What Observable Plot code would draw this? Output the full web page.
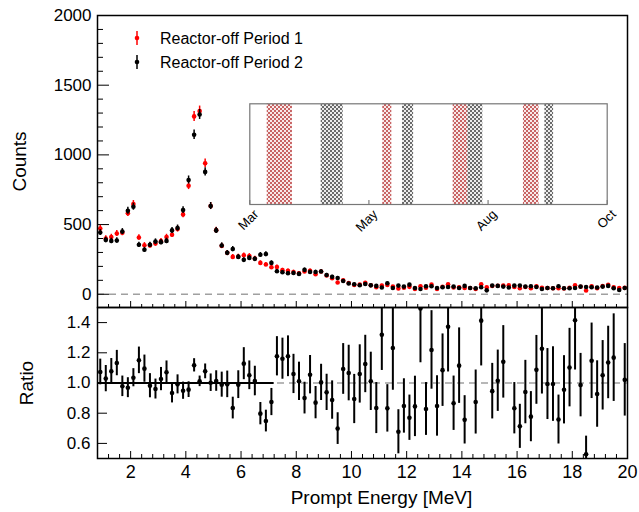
<!DOCTYPE html>
<html><head><meta charset="utf-8">
<script src="https://cdn.jsdelivr.net/npm/d3@7"></script>
<script src="https://cdn.jsdelivr.net/npm/@observablehq/plot@0.6"></script>
<style>
body{margin:0;background:#fff;}
#wrap{position:relative;width:639px;height:512px;font-family:"Liberation Sans",Arial,Helvetica,sans-serif;}
#wrap > svg{position:absolute;overflow:visible;}
</style></head><body><div id="wrap"></div>
<script>
// ---------------- data ----------------
const binStart = 0.8, binWidth = 0.2;           // MeV
const seriesNames = ["Reactor-off Period 1", "Reactor-off Period 2"];
const period1 = [472,400,410,436,441,582,647,407,352,350,
 364,381,410,427,468,573,779,1276,1314,940,
 633,460,347,297,268,271,280,275,256,225,
 213,194,196,173,168,160,151,163,168,144,
 163,135,115,84,100,81,66,69,83,65,
 50,63,66,55,42,47,53,38,57,47,
 69,38,54,71,48,50,45,45,38,71,
 50,59,61,63,64,52,44,52,44,57,
 47,45,43,43,41,47,64,54,27,57,
 44,58,68,50,45,46];
const period2 = [443,390,383,386,450,599,628,355,319,355,
 378,374,383,458,475,604,820,1144,1290,878,
 633,458,350,297,324,268,247,261,254,283,
 288,225,165,158,151,153,146,175,160,160,
 163,138,125,117,95,77,72,65,74,64,
 60,48,79,45,62,55,69,45,38,57,
 57,45,50,52,55,45,60,45,43,50,
 28,62,60,55,48,62,62,55,57,52,
 38,45,43,57,43,43,45,55,52,50,
 48,55,60,43,31,45];
const ratio = [1.073,1.029,1.077,1.132,0.978,0.969,1.035,1.150,1.095,0.982,
 0.960,1.026,1.071,0.934,0.991,0.949,0.956,1.117,1.011,1.077,
 1.002,1.013,0.989,0.991,0.834,0.989,1.128,1.051,1.013,0.797,
 0.748,0.874,1.177,1.161,1.177,1.060,1.011,0.900,1.055,0.870,
 1.004,0.938,0.887,0.698,1.093,1.066,0.894,1.060,1.126,1.011,
 0.834,1.320,0.832,1.232,0.677,0.848,0.770,0.845,1.494,0.828,
 1.219,0.848,1.085,1.373,0.866,1.115,0.756,null,0.874,1.413,
 null,0.946,1.015,1.140,null,0.833,0.713,0.940,0.777,1.087,
 1.227,0.993,0.993,0.758,0.955,1.102,1.416,0.986,0.528,1.147,
 0.927,1.051,1.136,1.168,null,1.021];
const ratioErr = [.085,.087,.085,.084,.068,.066,.060,.088,.090,.080,
 .066,.077,.075,.066,.063,.057,.052,.044,.035,.049,
 .058,.068,.083,.088,.072,.092,.106,.095,.098,.074,
 .072,.090,.130,.136,.135,.130,.127,.105,.127,.107,
 .120,.120,.127,.105,.168,.184,.163,.193,.190,.193,
 .169,.237,.157,.280,.146,.180,.150,.200,.360,.175,
 .260,.200,.240,.300,.180,.250,.160,null,.212,.300,
 null,.184,.203,.240,null,.170,.146,.210,.166,.228,
 .300,.235,.247,.162,.226,.260,.330,.210,.120,.250,
 .220,.230,.240,.290,null,.240];
const fitValue = 1.0, fitRange = [0.8, 7.2];
const xDomain = [0.8, 20];
const xTicks = [2,4,6,8,10,12,14,16,18,20];
const countTicks = [0,500,1000,1500,2000];
const ratioTicks = [0.6,0.8,1.0,1.2,1.4];
// inset: data-taking periods
const months = ["Mar","May","Aug","Oct"];
const monthPos = [0,1,2,3];
const bandStart  = [0.146,0.599,1.116,1.282,1.707,1.830,2.297,2.477];
const bandEnd    = [0.358,0.784,1.192,1.375,1.830,1.956,2.428,2.550];
const bandPeriod = [1,2,1,2,1,2,1,2];

// ---------------- helpers ----------------
const FONT = '"Liberation Sans", Arial, Helvetica, sans-serif';
const RED = "#ff0000";
const center = k => binStart + binWidth*(k + 0.5);
const pts = (arr, s) => arr.map((v,k) => ({e:center(k), v, s}));
const d1 = pts(period1, 1), d2 = pts(period2, 2);
const rdat = ratio.map((v,k)=>({e:center(k), v, err: ratioErr[k]})).filter(d=>d.v!=null);
const xMinor = d3.range(1.2, 20, 0.4).map(v=>+v.toFixed(2)).filter(v=>Math.abs(v/2-Math.round(v/2))>1e-6);
const countMinor = d3.range(100, 2000, 100).filter(v=>v%500!==0);

const W = 639, ML = 97, MR = 12, PW = W-ML-MR;
const wrap = document.getElementById("wrap");
function place(svg, left, top){ svg.style.left = left+"px"; svg.style.top = top+"px"; wrap.appendChild(svg); }

// ---------------- top panel ----------------
const TH = 292;
const topPlot = Plot.plot({
  width: W, height: 307, marginLeft: ML, marginRight: MR, marginTop: 15, marginBottom: 0,
  x: {domain: xDomain, axis: null},
  y: {domain: [-95, 2000]},
  style: {fontFamily: FONT, background: "transparent", color: "#000"},
  marks: [
    Plot.ruleY([0], {stroke: "#a0a0a0", strokeWidth: 1.3, strokeDasharray: "7,5"}),
    Plot.gridX(xTicks, {insetTop: TH-6, stroke: "#000", strokeOpacity: 1, strokeWidth: 1}),
    Plot.gridX(xMinor, {insetTop: TH-3, stroke: "#000", strokeOpacity: 1, strokeWidth: 1}),
    Plot.gridY(countTicks, {insetRight: PW-12, stroke: "#000", strokeOpacity: 1, strokeWidth: 1}),
    Plot.gridY(countMinor, {insetRight: PW-6, stroke: "#000", strokeOpacity: 1, strokeWidth: 1}),
    Plot.axisY(countTicks, {tickSize: 0, tickPadding: 6, fontSize: 17, tickFormat: d3.format("d"), label: null}),
    Plot.text(["Counts"], {text: d=>d, frameAnchor: "left", dx: -78, rotate: -90, fontSize: 19, textAnchor: "middle", lineAnchor: "middle"}),
    Plot.ruleX(d1, {x: "e", y1: d=>d.v-Math.sqrt(d.v), y2: d=>d.v+Math.sqrt(d.v), stroke: RED, strokeWidth: 1.5}),
    Plot.dot(d1, {x: "e", y: "v", r: 2.3, fill: RED}),
    Plot.ruleX(d2, {x: "e", y1: d=>d.v-Math.sqrt(d.v), y2: d=>d.v+Math.sqrt(d.v), stroke: "#000", strokeWidth: 1.5}),
    Plot.dot(d2, {x: "e", y: "v", r: 2.3, fill: "#000"}),
    Plot.frame({stroke: "#000", strokeWidth: 1.5})
  ]
});
place(topPlot, 0, 0);

// ---------------- ratio panel ----------------
const BH = 151;
const botPlot = Plot.plot({
  width: W, height: 205, marginLeft: ML, marginRight: MR, marginTop: 0, marginBottom: 54,
  x: {domain: xDomain},
  y: {domain: [0.5, 1.5]},
  style: {fontFamily: FONT, background: "transparent", color: "#000"},
  marks: [
    Plot.ruleY([1], {stroke: "#a0a0a0", strokeWidth: 1.5, strokeDasharray: "7,5"}),
    Plot.ruleY([fitValue], {x1: fitRange[0], x2: fitRange[1], stroke: "#000", strokeWidth: 2}),
    Plot.gridX(xTicks, {insetTop: BH-7, stroke: "#000", strokeOpacity: 1, strokeWidth: 1}),
    Plot.gridX(xMinor, {insetTop: BH-4, stroke: "#000", strokeOpacity: 1, strokeWidth: 1}),
    Plot.gridY(ratioTicks, {insetRight: PW-10, stroke: "#000", strokeOpacity: 1, strokeWidth: 1}),
    Plot.axisY(ratioTicks, {tickSize: 0, tickPadding: 7, fontSize: 17, tickFormat: d3.format(".1f"), label: null}),
    Plot.axisX(xTicks, {tickSize: 0, tickPadding: 7, fontSize: 18, label: null}),
    Plot.text(["Ratio"], {text: d=>d, frameAnchor: "left", dx: -71, rotate: -90, fontSize: 19, textAnchor: "middle", lineAnchor: "middle"}),
    Plot.text(["Prompt Energy [MeV]"], {text: d=>d, frameAnchor: "bottom", dx: 19, dy: 39, fontSize: 19, textAnchor: "middle", lineAnchor: "middle"}),
    Plot.ruleX(rdat, {x: "e", y1: d=>d.v-d.err, y2: d=>d.v+d.err, stroke: "#000", strokeWidth: 2, clip: true}),
    Plot.dot(rdat, {x: "e", y: "v", r: 2.3, fill: "#000", clip: true}),
    Plot.frame({stroke: "#000", strokeWidth: 1.5})
  ]
});
place(botPlot, 0, 307);

// ---------------- inset ----------------
const IW = 357.4, IH = 100.7, IML = 24.3, IMT = 6.3, IWT = 412, IHT = 147;
const inset = Plot.plot({
  width: IWT, height: IHT, marginLeft: IML, marginRight: IWT - IML - IW, marginTop: IMT, marginBottom: IHT - IMT - IH,
  x: {domain: [0, 3], axis: null},
  y: {domain: [0, 1], axis: null},
  style: {fontFamily: FONT, background: "transparent", color: "#000"},
  marks: [
    Plot.frame({fill: "#fff", stroke: "none"}),
    Plot.rect(bandStart.map((s,i)=>({s, e: bandEnd[i], p: bandPeriod[i]})).filter(d=>d.p===1),
      {x1: "s", x2: "e", y1: 0, y2: 1, fill: "url(#hatchP1)"}),
    Plot.rect(bandStart.map((s,i)=>({s, e: bandEnd[i], p: bandPeriod[i]})).filter(d=>d.p===2),
      {x1: "s", x2: "e", y1: 0, y2: 1, fill: "url(#hatchP2)"}),
    Plot.gridX(monthPos, {insetTop: IH-4, stroke: "#666", strokeOpacity: 1, strokeWidth: 1}),
    Plot.text(monthPos, {x: d=>d, text: (d,i)=>months[i], frameAnchor: "bottom", rotate: -45, textAnchor: "end", lineAnchor: "top", dx: 3, dy: 4, fontSize: 13}),
    Plot.frame({stroke: "#777", strokeWidth: 1.2})
  ]
});
// cross-hatch fill (diagonal lattice, like ROOT hatch styles)
const defs = d3.select(inset).insert("defs", ":first-child");
const hatchCells = [[0,0],[1,1],[2,2],[3,3],[0,3],[1,2],[2,1],[3,0]];
[["hatchP1", "#c86464", "#f8eaea"], ["hatchP2", "#6a6a6a", "#ececec"]].forEach(([id, col, bg]) => {
  const p = defs.append("pattern").attr("id", id).attr("patternUnits", "userSpaceOnUse").attr("width", 4).attr("height", 4);
  p.append("rect").attr("width", 4).attr("height", 4).attr("fill", bg);
  hatchCells.forEach(([cx, cy]) => p.append("rect").attr("x", cx).attr("y", cy).attr("width", 1).attr("height", 1)
    .attr("fill", col).attr("shape-rendering", "crispEdges"));
});
place(inset, 225, 97);

// ---------------- legend ----------------
const leg = d3.create("svg").attr("width", 300).attr("height", 80);
[[RED, 38], ["#000", 62]].forEach(([col, y], i) => {
  leg.append("line").attr("x1", 137).attr("x2", 137).attr("y1", y-7).attr("y2", y+7).attr("stroke", col).attr("stroke-width", 1.5);
  leg.append("circle").attr("cx", 137).attr("cy", y).attr("r", 2.3).attr("fill", col);
  leg.append("text").attr("x", 160).attr("y", y).attr("dy", "0.35em").attr("font-size", 16).attr("font-family", FONT).text(seriesNames[i]);
});
place(leg.node(), 0, 0);
</script></body></html>
